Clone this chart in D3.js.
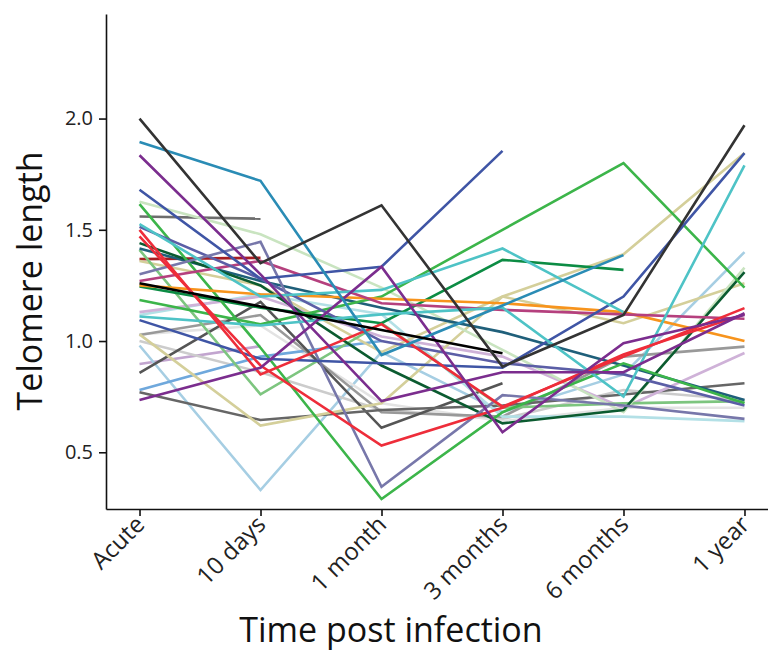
<!DOCTYPE html>
<html lang="en">
<head>
    <meta charset="UTF-8">
    <title>Telomere length over time</title>
    <style>
        body {
            margin: 0;
            background-color: #fff;
        }

        #chart {
            display: block;
        }

        .axis path,
        .axis line {
            stroke: #111;
            stroke-width: 1.6;
        }

        .axis text {
            fill: #222;
            font-family: "Open Sans", "Noto Sans", sans-serif;
            font-size: 20px;
        }

        .x-axis text {
            font-size: 24px;
        }

        .title {
            fill: #111;
            font-family: "Open Sans", "Noto Sans", sans-serif;
            font-size: 34px;
        }
    </style>
</head>
<body>
    <svg id="chart" width="768" height="653"></svg>

    <script src="https://cdnjs.cloudflare.com/ajax/libs/d3/7.8.5/d3.min.js"></script>
    <script>
        // time points on the x axis
        const categories = ['Acute', '10 days', '1 month', '3 months', '6 months', '1 year'];
        const yTicks = [0.5, 1.0, 1.5, 2.0];

        // one colour per subject, same order as seriesValues
        const seriesColors = [
            '#c2a5cf', '#a6cee3', '#cccccc', '#e3e3e3', '#6fa8dc', '#999999',
            '#555555', '#666666', '#6d6d6d', '#a61e22', '#b3e0e6', '#cfb2d8',
            '#d4cf9a', '#d4cf9a', '#7dc57f', '#c9e4c0', '#1f5f7a', '#0b5b30',
            '#0c8c44', '#3cb54a', '#3cb54a', '#f7941d', '#b5407e', '#5b5ea6',
            '#7777aa', '#3f55a5', '#3f55a5', '#4ec3c6', '#4ec3c6', '#ee2d3a',
            '#ee2d3a', '#7b2d8e', '#7b2d8e', '#2a8cb5', '#000000', '#333333'
        ];

        // telomere length per subject, null = not measured
        const seriesValues = [
            [0.897, 0.977, null, null, null, null],
            [0.98, 0.33, 0.95, 0.68, 0.85, 1.40],
            [1.00, 0.86, 0.69, 0.65, 0.78, 0.735],
            [1.03, 1.07, 0.72, 0.64, 0.70, 0.70],
            [0.78, 0.93, 1.00, null, null, null],
            [1.027, 1.117, 0.68, 0.66, 0.93, 0.975],
            [0.857, 1.176, 0.61, 0.81, null, null],
            [0.77, 0.645, 0.69, 0.71, 0.76, 0.81],
            [1.56, 1.55, null, null, null, null],
            [1.368, 1.374, null, null, null, null],
            [1.117, 1.21, 1.12, 0.66, 0.66, 0.64],
            [1.13, 1.20, 1.02, 0.93, 0.70, 0.946],
            [1.03, 0.62, 0.72, 1.20, 1.08, 1.26],
            [1.36, 1.25, 0.95, 1.20, 1.39, 1.845],
            [1.41, 0.76, 1.08, 0.70, 0.72, 0.73],
            [1.626, 1.48, 1.24, 0.96, 0.68, 1.33],
            [1.416, 1.27, 1.15, 1.04, 0.89, 0.735],
            [1.44, 1.25, 0.89, 0.63, 0.69, 1.31],
            [1.245, 1.15, 1.08, 1.365, 1.32, null],
            [1.615, 0.97, 0.29, 0.68, 0.90, 0.72],
            [1.184, 1.075, 1.20, 1.50, 1.80, 1.24],
            [1.25, 1.21, 1.19, 1.17, 1.13, 1.00],
            [1.27, 1.36, 1.17, 1.14, 1.12, 1.10],
            [1.513, 1.28, 1.00, 0.90, 0.85, 0.71],
            [1.30, 1.446, 0.345, 0.757, 0.71, 0.65],
            [1.094, 0.92, 0.90, 0.88, 1.20, 1.845],
            [1.68, 1.28, 1.334, 1.855, null, null],
            [1.526, 1.20, 1.23, 1.416, 1.13, null],
            [1.11, 1.07, 1.12, 1.15, 0.75, 1.79],
            [1.47, 0.89, 0.53, 0.70, 0.94, 1.12],
            [1.50, 0.85, 1.076, 0.705, 0.93, 1.148],
            [0.735, 0.88, 1.334, 0.59, 0.99, 1.117],
            [1.835, 1.30, 0.73, 0.86, 0.86, 1.125],
            [1.895, 1.72, 0.937, 1.16, 1.386, null],
            [1.26, 1.155, 1.05, 0.945, null, null],
            [2.00, 1.35, 1.61, 0.885, 1.117, 1.97]
        ];

        const svg = d3.select('#chart');

        const x = d3.scalePoint()
            .domain(categories)
            .range([106, 778])
            .padding(0.277);

        const y = d3.scaleLinear()
            .domain([0.245, 2.47])
            .range([509, 14]);

        const line = d3.line()
            .defined(d => d != null)
            .x((d, i) => x(categories[i]))
            .y(d => y(d));

        svg.append('g')
            .selectAll('path')
            .data(seriesValues)
            .join('path')
            .attr('fill', 'none')
            .attr('stroke', (d, i) => seriesColors[i])
            .attr('stroke-width', 2.6)
            .attr('d', line);

        // y axis
        svg.append('g')
            .attr('class', 'axis')
            .attr('transform', 'translate(106,0)')
            .call(d3.axisLeft(y)
                .tickValues(yTicks)
                .tickFormat(d3.format('.1f'))
                .tickSize(7)
                .tickSizeOuter(0)
                .tickPadding(6));

        // x axis
        let xAxis = svg.append('g')
            .attr('class', 'axis x-axis')
            .attr('transform', 'translate(0,509)')
            .call(d3.axisBottom(x)
                .tickSize(7)
                .tickSizeOuter(0));

        xAxis.selectAll('text')
            .attr('text-anchor', 'end')
            .attr('dy', null)
            .attr('y', 0)
            .attr('transform', 'translate(6,17) rotate(-45)');

        svg.append('text')
            .attr('class', 'title')
            .attr('text-anchor', 'middle')
            .attr('transform', 'translate(42,281) rotate(-90)')
            .text('Telomere length');

        svg.append('text')
            .attr('class', 'title')
            .attr('text-anchor', 'middle')
            .attr('x', 391)
            .attr('y', 642)
            .text('Time post infection');
    </script>
</body>
</html>
